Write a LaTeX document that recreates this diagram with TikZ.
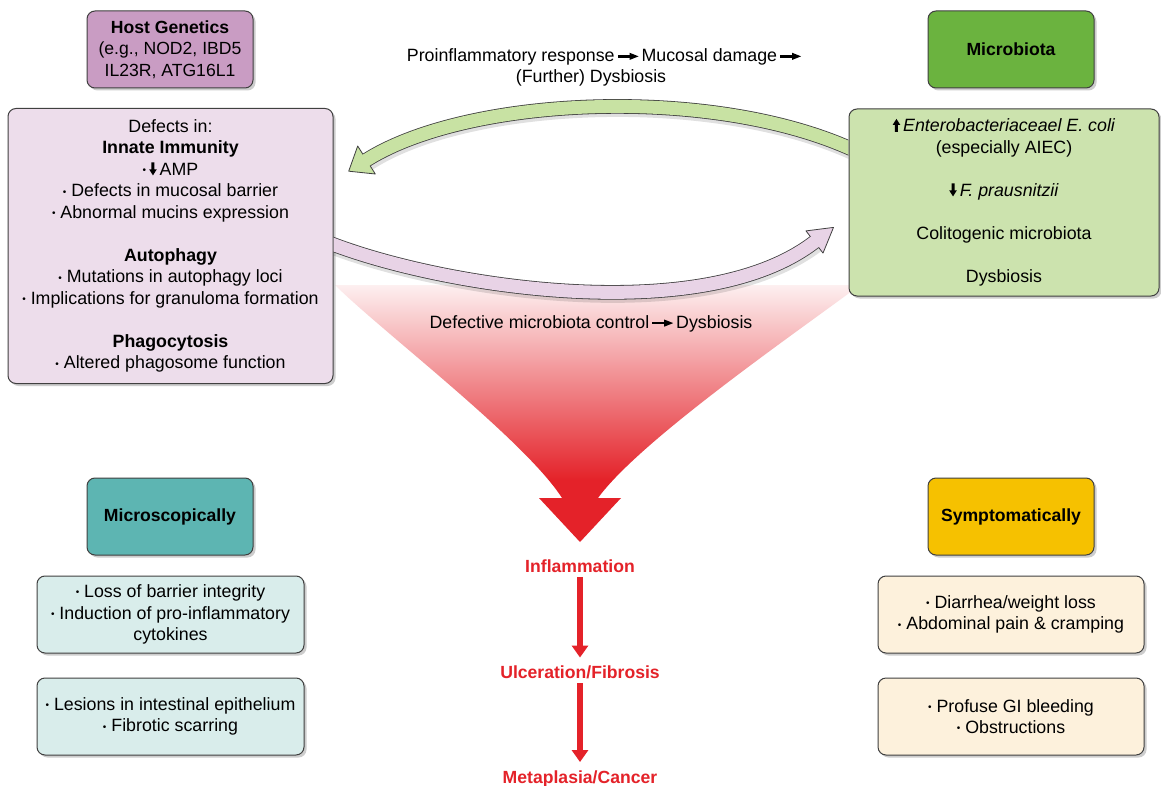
\documentclass[tikz,border=0pt]{standalone}
\usepackage{fontspec}
\setmainfont{Liberation Sans}
\usetikzlibrary{arrows.meta,shadows}

\definecolor{bordc}{HTML}{404040}
\definecolor{hostc}{HTML}{C99CC3}
\definecolor{leftc}{HTML}{EDDDEB}
\definecolor{pinkarr}{HTML}{E8D3E6}
\definecolor{microc}{HTML}{6BB33F}
\definecolor{rightc}{HTML}{CCE3AE}
\definecolor{greenarr}{HTML}{C8E2A3}
\definecolor{tealc}{HTML}{5DB5B2}
\definecolor{teall}{HTML}{D9EDEB}
\definecolor{yelc}{HTML}{F6C100}
\definecolor{creamc}{HTML}{FDF1DC}
\definecolor{fred}{HTML}{E42229}

\pgfdeclareverticalshading{funnelshade}{100bp}{color(0bp)=(fred); color(37bp)=(fred); color(75bp)=(fred!7); color(100bp)=(fred!7)}

\newcommand{\bulnosp}{\raisebox{1.8pt}{\fontsize{10}{10}\selectfont\textbullet}}
\newcommand{\bul}{\bulnosp\ }
% inline block arrows drawn with the basic layer (immune to inherited node options)
\newcommand{\blockarrow}[1]{\tikz[baseline=0pt]{%
  \pgfsetcornersarced{\pgfpointorigin}\pgfsetfillcolor{black}%
  #1\pgfpathclose\pgfusepath{fill}}}
\newcommand{\dnarr}{\blockarrow{%
  \pgfpathmoveto{\pgfpoint{-3.8pt}{6pt}}\pgfpathlineto{\pgfpoint{0pt}{0pt}}%
  \pgfpathlineto{\pgfpoint{3.8pt}{6pt}}\pgfpathlineto{\pgfpoint{1.5pt}{6pt}}%
  \pgfpathlineto{\pgfpoint{1.5pt}{13pt}}\pgfpathlineto{\pgfpoint{-1.5pt}{13pt}}%
  \pgfpathlineto{\pgfpoint{-1.5pt}{6pt}}}}
\newcommand{\uparr}{\blockarrow{%
  \pgfpathmoveto{\pgfpoint{-3.8pt}{7pt}}\pgfpathlineto{\pgfpoint{0pt}{13pt}}%
  \pgfpathlineto{\pgfpoint{3.8pt}{7pt}}\pgfpathlineto{\pgfpoint{1.5pt}{7pt}}%
  \pgfpathlineto{\pgfpoint{1.5pt}{0pt}}\pgfpathlineto{\pgfpoint{-1.5pt}{0pt}}%
  \pgfpathlineto{\pgfpoint{-1.5pt}{7pt}}}}
\newcommand{\rarr}{\tikz[baseline=-5pt]{\fill[black] (0pt,-1.2pt) rectangle (14pt,1.2pt); \fill[black] (12pt,3.6pt)--(21pt,0pt)--(12pt,-3.6pt)--cycle;}}

\begin{document}
\begin{tikzpicture}[x=1pt,y=-1pt,
  font=\fontsize{17.8}{21.5}\selectfont,
  box/.style={draw=bordc, line width=1pt, rounded corners=8pt, align=center, inner sep=0pt,
    drop shadow={shadow xshift=2.5pt, shadow yshift=-2.5pt, opacity=0.28, fill=black!70}},
  head/.style={box, font=\fontsize{17.6}{21.5}\selectfont\bfseries, minimum width=166pt, minimum height=77pt},
  detail/.style={box, minimum width=267pt, minimum height=77pt},
  redlbl/.style={font=\fontsize{17.6}{21.5}\selectfont\bfseries, text=fred, inner sep=0pt, anchor=base},
  redarrow/.style={draw=fred, line width=6.5pt, -{Triangle[length=12pt,width=16pt]}, shorten <=4pt, shorten >=8pt},
  plain/.style={inner sep=0pt, align=center},
  arrout/.style={draw=bordc, line width=14.6pt},
  arrshadow/.style={draw=black, opacity=0.12, line width=15pt}
]
\fill[white] (0,0) rectangle (1161,786);
\useasboundingbox (0,0) rectangle (1161,786);

% ---------- red funnel ----------
\path[shading=funnelshade] (335,285) .. controls (380,330) and (525,440) .. (562,498)
  -- (539,498) -- (580,542) -- (621,498) -- (598,498)
  .. controls (640,440) and (800,330) .. (860,285) -- cycle;

% ---------- boxes ----------
\node[head, fill=hostc, font=\fontsize{17.6}{21.5}\selectfont] (host) at (170,49.5)
  {\textbf{Host Genetics}\\(e.g., NOD2, IBD5\\IL23R, ATG16L1};
\node[box, fill=leftc, minimum width=325pt, minimum height=275pt] (left) at (170.5,246)
  {Defects in:\\
   \textbf{Innate Immunity}\\
   \bulnosp\,\dnarr\,AMP\\
   \bul Defects in mucosal barrier\\
   \bul Abnormal mucins expression\\[21.5pt]
   \textbf{Autophagy}\\
   \bul Mutations in autophagy loci\\
   \bul Implications for granuloma formation\\[21.5pt]
   \textbf{Phagocytosis}\\
   \bul Altered phagosome function};
\node[head, fill=microc] (micro) at (1011,49.5) {Microbiota};
\node[box, fill=rightc, minimum width=310pt, minimum height=187pt] (right) at (1004,202.5)
  {\uparr\,\textit{Enterobacteriaceael E. coli}\\
   (especially AIEC)\\[21.5pt]
   \dnarr\,\textit{F. prausnitzii}\\[21.5pt]
   Colitogenic microbiota\\[21.5pt]
   Dysbiosis};

\node[head, fill=tealc] (mic) at (170,516.5) {Microscopically};
\node[detail, fill=teall] (mic1) at (170.5,614.5)
  {\bul Loss of barrier integrity\\\bul Induction of pro-inflammatory\\cytokines};
\node[detail, fill=teall] (mic2) at (170.5,716.5)
  {\bul Lesions in intestinal epithelium\\\bul Fibrotic scarring};

\node[head, fill=yelc] (sym) at (1011,516.5) {Symptomatically};
\node[detail, fill=creamc, minimum width=266pt] (sym1) at (1011,614.5)
  {\bul Diarrhea/weight loss\\\bul Abdominal pain \& cramping};
\node[detail, fill=creamc, minimum width=266pt] (sym2) at (1011,716.5)
  {\bul Profuse GI bleeding\\\bul Obstructions};

% ---------- curved arrows ----------
\begin{scope}
\clip (333.6,0) rectangle (848.4,786);
% green arrow (microbiota -> host)
\draw[arrshadow] (860,156) .. controls (720,88) and (470,98) .. (369,163);
\draw[arrout] (860,153) .. controls (720,85) and (470,95) .. (366.5,160);
\filldraw[fill=greenarr, draw=bordc, line width=0.8pt, line join=round]
  (357.7,146.0) -- (348.7,171.2) -- (375.3,174.0) -- cycle;
\draw[draw=greenarr, line width=13pt] (860,153) .. controls (720,85) and (470,95) .. (366.5,160) -- ++(-1.3,0.8);
% pink arrow (host -> microbiota)
\draw[arrshadow] (322,243) .. controls (430,288) and (700,333) .. (817,245);
\draw[arrout] (322,240) .. controls (430,285) and (700,330) .. (814.5,242);
\filldraw[fill=pinkarr, draw=bordc, line width=0.8pt, line join=round]
  (806,230.9) -- (833.5,227.4) -- (823,253.1) -- cycle;
\draw[draw=pinkarr, line width=13pt] (322,240) .. controls (430,285) and (700,330) .. (814.5,242) -- ++(1.2,-0.9);
\end{scope}

% ---------- free texts ----------
\node[plain] (toptxt) at (604,67.5)
  {Proinflammatory response\,\rarr\,Mucosal damage\,\rarr\\(Further) Dysbiosis\hspace*{26pt}};
\node[plain] (deftxt) at (591,323.5) {Defective microbiota control\,\rarr\,Dysbiosis};

% ---------- red cascade ----------
\node[redlbl] (infl) at (580,572.5) {Inflammation};
\node[redlbl] (ulc) at (580,678.5) {Ulceration/Fibrosis};
\node[redlbl] (meta) at (580,783) {Metaplasia/Cancer};
\draw[redarrow] (infl) -- (ulc);
\draw[redarrow] (ulc) -- (meta);
\end{tikzpicture}
\end{document}
